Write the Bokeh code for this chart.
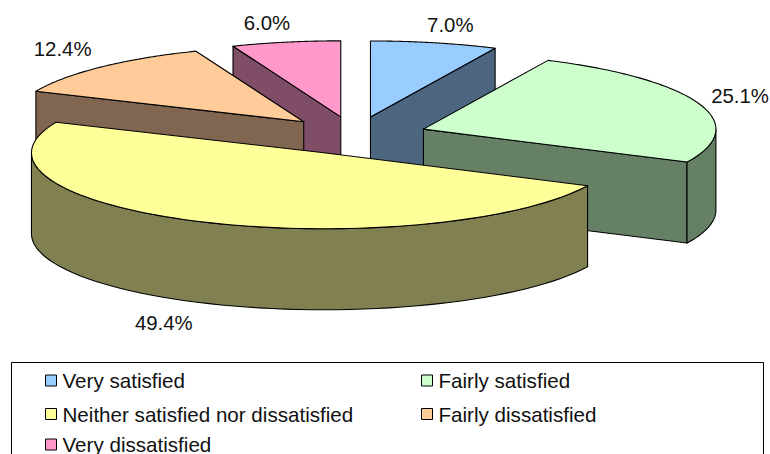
import math
from bokeh.plotting import figure
from bokeh.models import ColumnDataSource, Range1d
from bokeh.core.properties import value
from bokeh.embed import file_html
from bokeh.resources import INLINE

categories = ["Very satisfied", "Fairly satisfied", "Neither satisfied nor dissatisfied",
              "Fairly dissatisfied", "Very dissatisfied"]
percents = [7.0, 25.1, 49.4, 12.4, 6.0]
percent_labels = ["7.0%", "25.1%", "49.4%", "12.4%", "6.0%"]
top_colors = ["#99CCFF", "#CCFFCC", "#FFFF99", "#FFCC99", "#FF99CC"]
side_colors = ["#4D6680", "#668066", "#808050", "#806650", "#804D66"]

# Projection of the 3-D pie on the page
CX, CY = 354.0, 135.0
RX, RY = 292.5, 76.0
DEPTH = 81.0
EXPLODE = 0.25
DRAW_ORDER = [4, 0, 3, 1, 2]
LABEL_NUDGE = [(16, -18), (41, -8), (-38, 19), (-38, -18), (-19, -19)]

total = sum(percents)
starts, ends = [], []
acc = 0.0
for v in percents:
    starts.append(acc / total * 2 * math.pi)
    acc += v
    ends.append(acc / total * 2 * math.pi)


def pt(ax, ay, t):
    return ax + RX * math.sin(t), ay - RY * math.cos(t)


xs, ys, fills = [], [], []


def face(points, color):
    xs.append([q[0] for q in points])
    ys.append([q[1] for q in points])
    fills.append(color)


apexes = []
for a, b in zip(starts, ends):
    m = (a + b) / 2
    apexes.append(pt(CX, CY, m))
apexes = [(CX + EXPLODE * (x - CX), CY + EXPLODE * (y - CY)) for x, y in apexes]

for i in DRAW_ORDER:
    a, b = starts[i], ends[i]
    ax, ay = apexes[i]
    # cut faces seen from above-front
    for t, seen in ((a, math.sin(a) < -1e-9), (b, math.sin(b) > 1e-9)):
        if seen:
            ex, ey = pt(ax, ay, t)
            face([(ax, ay), (ex, ey), (ex, ey + DEPTH), (ax, ay + DEPTH)], side_colors[i])
    # outer rim, front half only
    r0, r1 = max(a, math.pi / 2), min(b, 3 * math.pi / 2)
    if r1 > r0:
        n = 60
        ts = [r0 + (r1 - r0) * k / n for k in range(n + 1)]
        rim = [pt(ax, ay, t) for t in ts]
        face(rim + [(x, y + DEPTH) for x, y in reversed(rim)], side_colors[i])
    # top
    n = 90
    ts = [a + (b - a) * k / n for k in range(n + 1)]
    face([(ax, ay)] + [pt(ax, ay, t) for t in ts], top_colors[i])

p = figure(width=770, height=454, output_backend="svg", toolbar_location=None,
           x_range=Range1d(0, 770), y_range=Range1d(454, 0),
           x_axis_location=None, y_axis_location=None, min_border=0,
           outline_line_color=None, background_fill_color="white")
p.grid.visible = False

p.patches("xs", "ys", source=ColumnDataSource(dict(xs=xs, ys=ys, fill=fills)),
          fill_color="fill", line_color="black", line_width=1.1, line_join="round")

# data labels
lx, ly = [], []
for i in range(len(percents)):
    m = (starts[i] + ends[i]) / 2
    x, y = pt(*apexes[i], m)
    if math.cos(m) < 0:
        y += DEPTH + 1
    lx.append(x + LABEL_NUDGE[i][0])
    ly.append(y + LABEL_NUDGE[i][1])
p.text(lx, ly, text=percent_labels, text_font=value("Liberation Sans"), text_font_size="20.4px",
       text_color="#111111", text_align="center", text_baseline="middle")

# legend
p.quad(left=[11], right=[763], top=[362], bottom=[470], fill_color="white",
       line_color="black", line_width=1)
col_x = [45, 421]
row_y = [380, 413.5, 444]
sx = [col_x[k % 2] + 5.5 for k in range(5)]
sy = [row_y[k // 2] for k in range(5)]
p.rect(sx, sy, width=11, height=11, fill_color=top_colors, line_color="black", line_width=1)
p.text([x + 11.5 for x in sx], sy, text=categories, text_font=value("Liberation Sans"),
       text_font_size="20.6px", text_color="#111111", text_align="left", text_baseline="middle")

open("out.html", "w").write(file_html(p, INLINE))
